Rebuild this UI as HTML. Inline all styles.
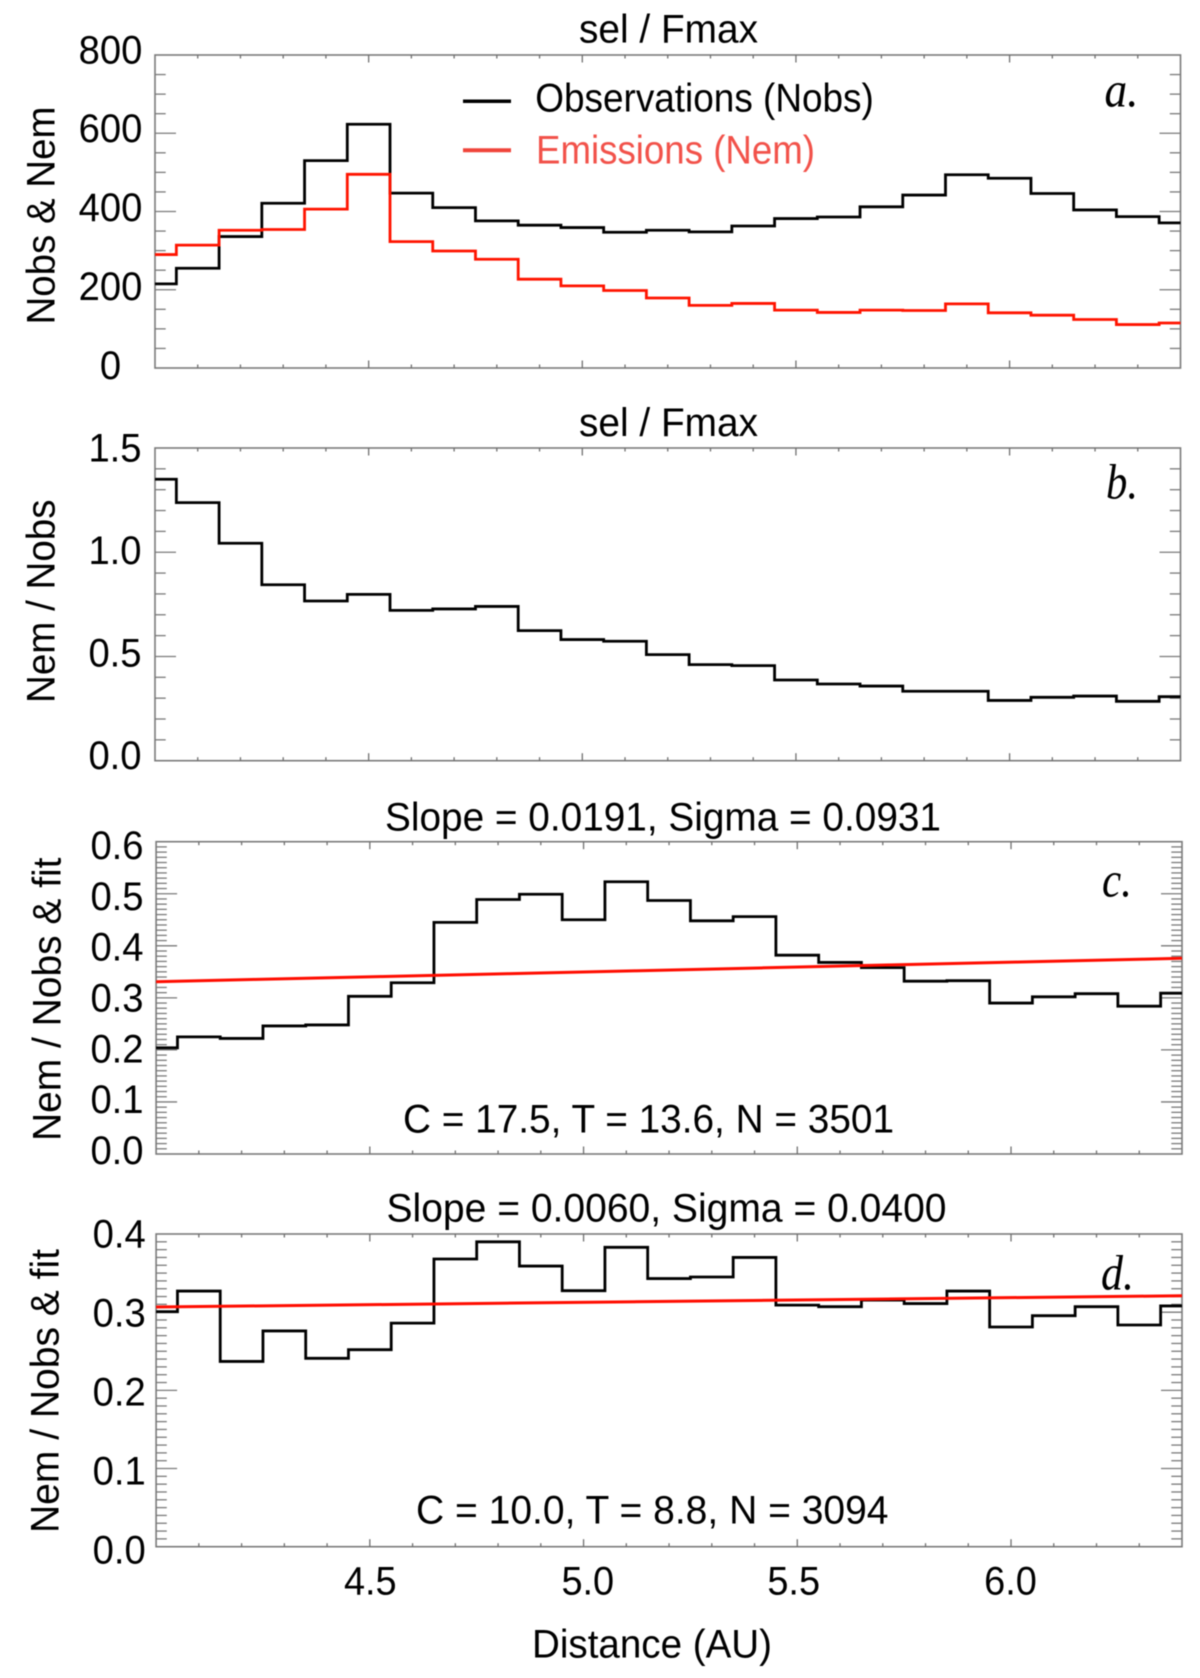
<!DOCTYPE html>
<html lang="en">
<head>
<meta charset="utf-8">
<title>Nobs and Nem versus distance</title>
<style>
html,body{margin:0;padding:0;background:#fff;}
svg{display:block;filter:blur(0.45px);}
text{font-family:"Liberation Sans",sans-serif;fill:#000;}
.tag{font-family:"Liberation Serif",serif;font-style:italic;}
</style>
</head>
<body>
<svg id="chart" xmlns="http://www.w3.org/2000/svg" width="1200" height="1678" viewBox="0 0 1200 1678">
  <rect x="0" y="0" width="1200" height="1678" fill="#fff"/>

  <text x="579" y="42.7" font-size="39.5" textLength="179" lengthAdjust="spacingAndGlyphs">sel / Fmax</text>
  <text x="579" y="436" font-size="39.5" textLength="179" lengthAdjust="spacingAndGlyphs">sel / Fmax</text>
  <text x="385" y="830.7" font-size="39.5" textLength="556" lengthAdjust="spacingAndGlyphs">Slope = 0.0191, Sigma = 0.0931</text>
  <text x="386.5" y="1221.7" font-size="39.5" textLength="560" lengthAdjust="spacingAndGlyphs">Slope = 0.0060, Sigma = 0.0400</text>

  <text transform="translate(54.7,324.5) rotate(-90)" font-size="39.5" textLength="218" lengthAdjust="spacingAndGlyphs">Nobs &amp; Nem</text>
  <text transform="translate(54.7,703) rotate(-90)" font-size="39.5" textLength="203.5" lengthAdjust="spacingAndGlyphs">Nem / Nobs</text>
  <text transform="translate(60.5,1141) rotate(-90)" font-size="39.5" textLength="283.5" lengthAdjust="spacingAndGlyphs">Nem / Nobs &amp; fit</text>
  <text transform="translate(58.5,1533) rotate(-90)" font-size="39.5" textLength="284" lengthAdjust="spacingAndGlyphs">Nem / Nobs &amp; fit</text>

  <text class="tag" x="1104.5" y="106.7" font-size="50" textLength="34" lengthAdjust="spacingAndGlyphs">a.</text>
  <text class="tag" x="1106" y="498.7" font-size="50" textLength="32" lengthAdjust="spacingAndGlyphs">b.</text>
  <text class="tag" x="1102" y="896.7" font-size="50" textLength="30" lengthAdjust="spacingAndGlyphs">c.</text>
  <text class="tag" x="1101" y="1289.3" font-size="50" textLength="33" lengthAdjust="spacingAndGlyphs">d.</text>

  <line x1="463" x2="511" y1="101.3" y2="101.3" stroke="#000" stroke-width="3.5"/>
  <text x="535.3" y="111.7" font-size="39.5" textLength="338.5" lengthAdjust="spacingAndGlyphs">Observations (Nobs)</text>
  <line x1="463" x2="511" y1="150.3" y2="150.3" stroke="#f0443a" stroke-width="4"/>
  <text x="536" y="163.3" font-size="39.5" textLength="279" lengthAdjust="spacingAndGlyphs" style="fill:#f2524a">Emissions (Nem)</text>

  <text x="403" y="1132.7" font-size="39.5" textLength="491" lengthAdjust="spacingAndGlyphs">C = 17.5, T = 13.6, N = 3501</text>
  <text x="416" y="1523.3" font-size="39.5" textLength="472.5" lengthAdjust="spacingAndGlyphs">C = 10.0, T = 8.8, N = 3094</text>

  <text x="370.3" y="1594.3" font-size="39.5" text-anchor="middle" textLength="52.7" lengthAdjust="spacingAndGlyphs">4.5</text>
  <text x="587.8" y="1594.3" font-size="39.5" text-anchor="middle" textLength="52.7" lengthAdjust="spacingAndGlyphs">5.0</text>
  <text x="793.7" y="1594.3" font-size="39.5" text-anchor="middle" textLength="52.7" lengthAdjust="spacingAndGlyphs">5.5</text>
  <text x="1010.5" y="1594.3" font-size="39.5" text-anchor="middle" textLength="52.7" lengthAdjust="spacingAndGlyphs">6.0</text>

  <text x="532" y="1657.3" font-size="39.5" textLength="240" lengthAdjust="spacingAndGlyphs">Distance (AU)</text>
</svg>
<script>
const distances = [4.0,4.1,4.2,4.3,4.4,4.5,4.6,4.7,4.8,4.9,5.0,5.1,5.2,5.3,5.4,5.5,5.6,5.7,5.8,5.9,6.0,6.1,6.2,6.3,6.4];
const observations = [215,255,336,421,530,623,447,410,376,365,359,347,352,348,363,382,386,412,442,494,485,446,404,387,371];
const emissions = [290,314,352,354,406,495,323,299,278,227,210,198,179,160,165,148,142,148,147,164,141,135,124,111,115];
const ratioB = [1.350,1.238,1.043,0.844,0.766,0.798,0.721,0.728,0.740,0.624,0.581,0.573,0.509,0.461,0.456,0.387,0.368,0.358,0.333,0.333,0.289,0.304,0.310,0.285,0.307];
const ratioC = [0.204,0.225,0.222,0.246,0.248,0.303,0.329,0.445,0.489,0.499,0.450,0.523,0.487,0.448,0.456,0.382,0.368,0.358,0.332,0.333,0.290,0.302,0.308,0.284,0.309];
const ratioD = [0.3006,0.327,0.237,0.276,0.241,0.252,0.286,0.368,0.390,0.359,0.3275,0.383,0.343,0.345,0.370,0.309,0.307,0.3155,0.311,0.327,0.281,0.2955,0.307,0.2836,0.308];
const fitX = [4.0,6.4];
const fitC = [0.331,0.376];
const fitD = [0.3066,0.321];
const yLabelsA = ["0","200","400","600","800"];
const yLabelsB = ["0.0","0.5","1.0","1.5"];
const yLabelsC = ["0.0","0.1","0.2","0.3","0.4","0.5","0.6"];
const yLabelsD = ["0.0","0.1","0.2","0.3","0.4"];

const svg = document.getElementById('chart');
const NS = 'http://www.w3.org/2000/svg';
const X_MIN = 4.0, X_MAX = 6.4;

function add(tag, attrs) {
  const el = document.createElementNS(NS, tag);
  for (const k in attrs) el.setAttribute(k, attrs[k]);
  svg.appendChild(el);
  return el;
}

function makeAxes(p) {
  p.x = v => p.left + (v - X_MIN) / (X_MAX - X_MIN) * (p.right - p.left);
  p.y = v => p.bottom - (v - p.yMin) / (p.yMax - p.yMin) * (p.bottom - p.top);
  p.labelY = v => p.labelBottom - (v - p.yMin) / (p.yMax - p.yMin) * (p.labelBottom - p.labelTop);
  return p;
}

function labelWidth(lab) {
  let units = 0;
  for (const ch of lab) units += ch === '.' ? 0.278 : 0.556;
  return units * 38.2;
}

function drawFrame(p) {
  const frame = add('rect', {x:p.left, y:p.top, width:p.right-p.left, height:p.bottom-p.top, fill:'none', stroke:'#7a7a7a', 'stroke-width':1.6});
  
  

  for (let i = 1; i < 24; i++) {
    const xv = X_MIN + i / 10;
    const major = (i + 40) % 5 === 0;
    const len = major ? 7.5 : 3.5;
    const px = p.x(xv);
    const t1 = add('line', {x1:px, x2:px, y1:p.bottom, y2:p.bottom-len, stroke:'#707070', 'stroke-width':1.3});
    
    
    const t2 = add('line', {x1:px, x2:px, y1:p.top, y2:p.top+len, stroke:'#707070', 'stroke-width':1.3});
    
    
  }

  const count = Math.round((p.yMax - p.yMin) / p.minorStep);
  const every = Math.round(p.majorStep / p.minorStep);
  for (let i = 1; i < count; i++) {
    const yv = p.yMin + i * p.minorStep;
    const major = i % every === 0;
    const len = major ? 21 : 10.7;
    const py = p.y(yv);
    const t1 = add('line', {x1:p.left, x2:p.left+len, y1:py, y2:py, stroke:'#7a7a7a', 'stroke-width':1.3});
    
    
    const t2 = add('line', {x1:p.right, x2:p.right-len, y1:py, y2:py, stroke:'#7a7a7a', 'stroke-width':1.3});
    
    
  }

  p.labels.forEach(function (lab) {
    const t = add('text', {x:p.labelX, y:p.labelY(parseFloat(lab)), 'font-size':39.5, 'text-anchor':'middle', textLength:labelWidth(lab), lengthAdjust:'spacingAndGlyphs'});
    t.textContent = lab;
    
    
  });
}

function drawSteps(p, values, color, width, name) {
  let d = '';
  values.forEach(function (v, i) {
    const x0 = Math.max(distances[i] - 0.05, X_MIN);
    const x1 = Math.min(distances[i] + 0.05, X_MAX);
    d += (i === 0 ? 'M' : 'L') + p.x(x0).toFixed(2) + ' ' + p.y(v).toFixed(2);
    d += 'L' + p.x(x1).toFixed(2) + ' ' + p.y(v).toFixed(2);
  });
  const path = add('path', {d:d, fill:'none', stroke:color, 'stroke-width':width, 'stroke-linejoin':'miter'});
  
  
}

function drawFit(p, values, name) {
  const line = add('line', {x1:p.x(fitX[0]), x2:p.x(fitX[1]), y1:p.y(values[0]), y2:p.y(values[1]), stroke:'#ff0d00', 'stroke-width':3});
  
  
}

const panelA = makeAxes({id:'a', left:155, right:1180.5, top:55, bottom:368, yMin:0, yMax:800, majorStep:200, minorStep:50, labels:yLabelsA, labelX:110.5, labelTop:63.3, labelBottom:379});
const panelB = makeAxes({id:'b', left:155, right:1180.5, top:448, bottom:760.7, yMin:0, yMax:1.5, majorStep:0.5, minorStep:0.1, labels:yLabelsB, labelX:115, labelTop:461.7, labelBottom:769});
const panelC = makeAxes({id:'c', left:156.1, right:1182, top:841.7, bottom:1154, yMin:0, yMax:0.6, majorStep:0.1, minorStep:0.01, labels:yLabelsC, labelX:117, labelTop:859, labelBottom:1164});
const panelD = makeAxes({id:'d', left:156.1, right:1182, top:1234, bottom:1546.7, yMin:0, yMax:0.4, majorStep:0.1, minorStep:0.01, labels:yLabelsD, labelX:119.2, labelTop:1247.7, labelBottom:1563.3});

[panelA, panelB, panelC, panelD].forEach(drawFrame);

drawSteps(panelA, observations, '#000', 2.8, 'observations-histogram');
drawSteps(panelA, emissions, '#ff1400', 2.8, 'emissions-histogram');
drawSteps(panelB, ratioB, '#000', 2.8, 'panel-b-ratio-histogram');
drawSteps(panelC, ratioC, '#000', 2.8, 'panel-c-ratio-histogram');
drawFit(panelC, fitC, 'panel-c-fit-line');
drawSteps(panelD, ratioD, '#000', 2.8, 'panel-d-ratio-histogram');
drawFit(panelD, fitD, 'panel-d-fit-line');
</script>
</body>
</html>
